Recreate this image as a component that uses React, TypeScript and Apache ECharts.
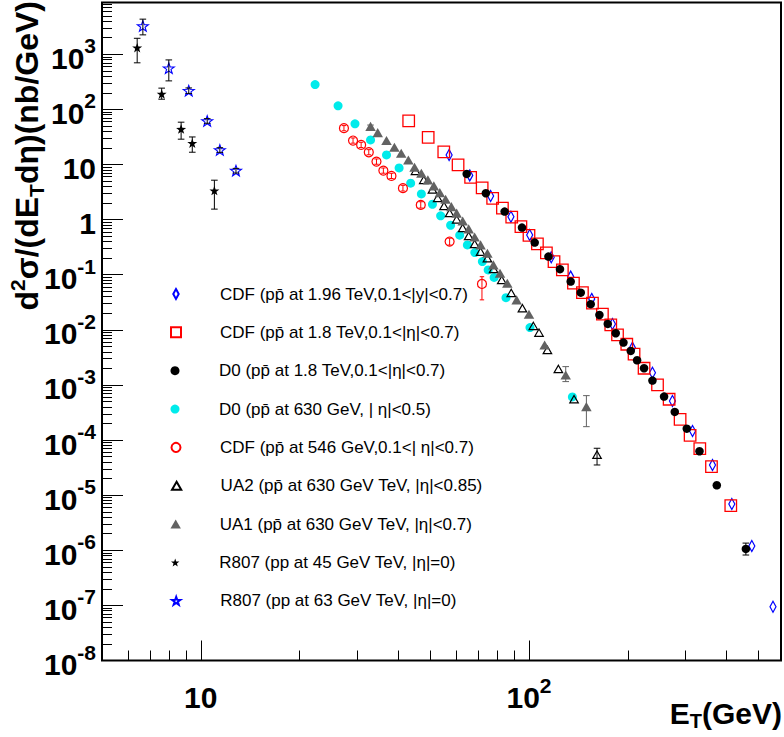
import React, { useEffect, useRef } from 'react';
import * as echarts from 'echarts';

const FONT = '"Liberation Sans", Arial, Helvetica, sans-serif';

// ---- axis ranges and tick positions ----
const X_MIN = 5;
const X_MAX = 586;
const Y_MIN = 1e-8;
const Y_MAX = 8700;
const X_MAJOR = [10, 100];
const X_MINOR = [6, 7, 8, 9, 20, 30, 40, 50, 60, 70, 80, 90, 200, 300, 400, 500];
const Y_EXPONENTS = [-8, -7, -6, -5, -4, -3, -2, -1, 0, 1, 2, 3];
const Y_MANTISSAS = [2, 3, 4, 5, 6, 7, 8, 9];

// ---- legend labels ----
const NAMES = [
  'CDF (pp̄ at 1.96 TeV,0.1<|y|<0.7)',
  'CDF (pp̄ at 1.8 TeV,0.1<|η|<0.7)',
  'D0 (pp̄ at 1.8 TeV,0.1<|η|<0.7)',
  'D0 (pp̄ at 630 GeV, | η|<0.5)',
  'CDF (pp̄ at 546 GeV,0.1<| η|<0.7)',
  'UA2 (pp̄ at 630 GeV TeV, |η|<0.85)',
  'UA1 (pp̄ at 630 GeV TeV, |η|<0.7)',
  'R807 (pp at 45 GeV TeV, |η|=0)',
  'R807 (pp at 63 GeV TeV, |η|=0)',
];

// ---- data ----
const cdf196X = [57.1, 66.0, 76.4, 88.1, 100.5, 116.9, 134, 155.3, 179.6, 206.6, 237.8, 273.6, 315, 362.4, 415, 477.5, 554];
const cdf196Y = [14.9, 6.34, 2.69, 1.13, 0.527, 0.208, 0.0925, 0.0364, 0.0128, 0.00475, 0.00167, 5.13e-4, 1.46e-4, 3.53e-5, 6.92e-6, 1.2e-6, 9.46e-8];

const cdf18X = [43.0, 49.3, 55.0, 60.8, 66.4, 72.0, 77.5, 83.0, 88.6, 94.5, 100, 106.1, 113, 119.2, 126.4, 136.6, 145.5, 156.1, 167.4, 177.5, 186.1, 198.6, 209, 224.2, 246.4, 267.3, 288.7, 309.7, 331.5, 359.8, 412];
const cdf18Y = [61.8, 31.0, 16.9, 9.84, 5.83, 3.76, 2.43, 1.61, 1.11, 0.746, 0.516, 0.362, 0.249, 0.173, 0.122, 0.0702, 0.0473, 0.0304, 0.0192, 0.01227, 0.00807, 0.00548, 0.00361, 0.00201, 0.001, 5.5e-4, 2.38e-4, 1.22e-4, 6.98e-5, 3.29e-5, 6.44e-6];

const d018X = [64.6, 73.9, 84.3, 95.2, 104.1, 114.6, 124.3, 134, 143.8, 154.2, 163.9, 173.8, 183.8, 194, 204.2, 213.5, 224.2, 237.8, 258, 278.1, 302.6, 330.8, 373.5, 458];
const d018Y = [6.75, 3.01, 1.40, 0.716, 0.383, 0.213, 0.126, 0.075, 0.0473, 0.0292, 0.0186, 0.0128, 0.00867, 0.00586, 0.00414, 0.0028, 0.00201, 0.0012, 6.14e-4, 3.24e-4, 1.61e-4, 6.27e-5, 1.51e-5, 1.06e-6];
const d018ErrX = [458];
const d018ErrLo = [8.2e-7];
const d018ErrHi = [1.35e-6];

const d0630X = [22.3, 26.2, 29.5, 32.9, 36.8, 40.2, 43.6, 47.0, 50.8, 53.8, 57.7, 61.5, 64.9, 68.4, 72.1, 75.1, 78.3, 85.1, 100.7, 135.6];
const d0630Y = [282, 116, 54.6, 27.9, 14.9, 8.67, 4.58, 2.93, 1.90, 1.17, 0.79, 0.521, 0.348, 0.252, 0.173, 0.122, 0.0893, 0.0384, 0.011, 6.05e-4];

const cdf546X = [27.3, 29.1, 30.8, 32.5, 34.3, 36.0, 38.1, 41.3, 46.8, 57.3, 71.9];
const cdf546Y = [45.6, 27.2, 22.7, 16.7, 11.3, 7.75, 6.21, 3.72, 1.85, 0.40, 0.068];
const cdf546Lo = [40.9, 24.4, 20.3, 15.0, 10.1, 6.95, 5.57, 3.30, 1.62, 0.345, 0.035];
const cdf546Hi = [50.8, 30.3, 25.3, 18.6, 12.6, 8.64, 6.92, 4.19, 2.11, 0.46, 0.092];

const ua2X = [45.1, 47.8, 50.8, 52.7, 55.1, 57.3, 60.2, 62.8, 65.5, 68.3, 71.2, 74.7, 78.0, 82.6, 88.3, 95.5, 103.1, 107.3, 113.8, 122.9, 137.2, 161.2];
const ua2Y = [7.66, 5.26, 3.53, 2.48, 1.77, 1.32, 1.01, 0.706, 0.506, 0.362, 0.262, 0.199, 0.127, 0.0805, 0.0468, 0.0247, 0.0118, 0.0089, 0.00431, 0.00195, 5.5e-4, 5.43e-5];
const ua2ErrX = [161.2];
const ua2ErrLo = [3.53e-5];
const ua2ErrHi = [7.1e-5];

const ua1X = [32.9, 34.6, 36.8, 38.9, 40.8, 42.9, 44.8, 47.0, 49.2, 51.3, 53.5, 55.7, 58.0, 60.2, 62.8, 65.5, 68.3, 71.2, 74.7, 77.9, 81.6, 85.9, 91.7, 100, 111.6, 129.4, 149.6];
const ua1Y = [49.1, 37.9, 27.2, 20.6, 16.0, 12.1, 8.93, 6.95, 5.26, 4.09, 3.09, 2.34, 1.72, 1.31, 0.946, 0.678, 0.485, 0.348, 0.245, 0.151, 0.106, 0.070, 0.0349, 0.0192, 0.00532, 0.00152, 4.04e-4];
const ua1ErrX = [32.9, 129.4, 149.6];
const ua1ErrLo = [42.0, 0.00115, 1.75e-4];
const ua1ErrHi = [52.0, 0.00215, 6.4e-4];

const r45X = [6.4, 7.6, 8.71, 9.42, 11.0];
const r45Y = [1320, 191, 44, 24.4, 3.36];
const r45Lo = [700, 153, 28.8, 16.7, 1.55];
const r45Hi = [1950, 243, 58.6, 31.6, 5.19];

const r63X = [6.66, 7.99, 9.19, 10.46, 11.43, 12.8];
const r63Y = [3270, 560, 219, 61.8, 18.4, 7.75];
const r63Lo = [2250, 329, 195, 56, 16.6, 7.0];
const r63Hi = [4340, 790, 245, 68, 20.2, 8.5];

// ---- helpers ----
const L = (v: number) => Math.log10(v);

const starPath = () => {
  const pts: string[] = [];
  for (let i = 0; i < 10; i++) {
    const r = i % 2 === 0 ? 10 : 4;
    const a = -Math.PI / 2 + (i * Math.PI) / 5;
    pts.push(`${(r * Math.cos(a)).toFixed(2)},${(r * Math.sin(a)).toFixed(2)}`);
  }
  return 'path://M' + pts.join('L') + 'Z';
};
const STAR = starPath();
const DIAMOND = 'path://M3,0L6,5.5L3,11L0,5.5Z';
const TRIANGLE = 'path://M5.77,0L11.55,10L0,10Z';
const SQUARE = 'path://M0,0L10,0L10,10L0,10Z';
const NONE = 'rgba(0,0,0,0)';

const fmtExp = (v: number) => {
  const e = Math.round(v);
  if (Math.abs(v - e) > 1e-6) return '';
  if (e === 0) return '{m|1}';
  if (e === 1) return '{m|10}';
  return `{m|10}{s|${e}}`;
};

const AX_RICH = {
  m: { fontSize: 30, fontWeight: 'bold', fontFamily: FONT, color: '#000', lineHeight: 38, verticalAlign: 'bottom' },
  s: { fontSize: 21, fontWeight: 'bold', fontFamily: FONT, color: '#000', lineHeight: 21, verticalAlign: 'top' },
};

// legendW: rendered icon width in the legend (for centring the icon at x=175)
type Mk = { symbol: string; size: number; fill: string; stroke: string; bw: number; legendSize: number; legendW: number };
const MARKERS: Mk[] = [
  { symbol: DIAMOND, size: 11, fill: NONE, stroke: '#0000ff', bw: 1.2, legendSize: 10, legendW: 5.5 },
  { symbol: SQUARE, size: 11.5, fill: NONE, stroke: '#ff0000', bw: 1.3, legendSize: 10, legendW: 10 },
  { symbol: 'circle', size: 8.5, fill: '#000000', stroke: '#000000', bw: 0, legendSize: 9, legendW: 9 },
  { symbol: 'circle', size: 9, fill: '#00ebeb', stroke: '#00ebeb', bw: 0, legendSize: 9, legendW: 9 },
  { symbol: 'circle', size: 9, fill: NONE, stroke: '#ff0000', bw: 1.2, legendSize: 9, legendW: 9 },
  { symbol: TRIANGLE, size: 8.5, fill: NONE, stroke: '#000000', bw: 1.2, legendSize: 8, legendW: 8 },
  { symbol: TRIANGLE, size: 10.5, fill: '#626262', stroke: '#626262', bw: 0, legendSize: 9, legendW: 9 },
  { symbol: STAR, size: 10, fill: '#000000', stroke: '#000000', bw: 0, legendSize: 8, legendW: 8 },
  { symbol: STAR, size: 11, fill: NONE, stroke: '#0000ff', bw: 1.1, legendSize: 8, legendW: 8 },
];

const DATASETS: [number[], number[]][] = [
  [cdf196X, cdf196Y],
  [cdf18X, cdf18Y],
  [d018X, d018Y],
  [d0630X, d0630Y],
  [cdf546X, cdf546Y],
  [ua2X, ua2Y],
  [ua1X, ua1Y],
  [r45X, r45Y],
  [r63X, r63Y],
];

const errSeries = (xs: number[], lo: number[], hi: number[], color: string, hw: number) => ({
  type: 'custom',
  xAxisIndex: 0,
  yAxisIndex: 0,
  silent: true,
  z: 3,
  data: xs.map((x, i) => [L(x), L(lo[i]), L(hi[i])]),
  encode: { x: 0, y: [1, 2] },
  renderItem: (_p: any, api: any) => {
    const a = api.coord([api.value(0), api.value(1)]);
    const b = api.coord([api.value(0), api.value(2)]);
    const st = { stroke: color, lineWidth: 1 };
    return {
      type: 'group',
      children: [
        { type: 'line', shape: { x1: a[0], y1: a[1], x2: b[0], y2: b[1] }, style: st },
        { type: 'line', shape: { x1: a[0] - hw, y1: a[1], x2: a[0] + hw, y2: a[1] }, style: st },
        { type: 'line', shape: { x1: b[0] - hw, y1: b[1], x2: b[0] + hw, y2: b[1] }, style: st },
      ],
    };
  },
});

const ROW0 = 294;
const ROW_GAP = 38.35;
const LEGEND_FONT = 17;

export default function App() {
  const ref = useRef<HTMLDivElement>(null);
  useEffect(() => {
    if (!ref.current) return;
    const chart = echarts.init(ref.current, null, { renderer: 'svg' });

    const yMinor: number[] = [];
    Y_EXPONENTS.forEach((e) =>
      Y_MANTISSAS.forEach((m) => {
        const v = m * Math.pow(10, e);
        if (v < Y_MAX) yMinor.push(L(v));
      })
    );

    const scatter = DATASETS.map(([xs, ys], i) => {
      const mk = MARKERS[i];
      return {
        type: 'scatter',
        name: NAMES[i],
        xAxisIndex: 0,
        yAxisIndex: 0,
        data: xs.map((x, j) => [L(x), L(ys[j])]),
        symbol: mk.symbol,
        symbolSize: mk.size,
        symbolKeepAspect: true,
        silent: true,
        z: 2,
        itemStyle: { color: mk.fill, borderColor: mk.stroke, borderWidth: mk.bw, opacity: 1 },
        emphasis: { disabled: true },
      };
    });

    const option: any = {
      animation: false,
      backgroundColor: '#ffffff',
      grid: {
        left: 102,
        right: 3,
        top: 2.5,
        bottom: 76.5,
        show: true,
        borderColor: '#000',
        borderWidth: 2,
        backgroundColor: 'transparent',
      },
      xAxis: [
        {
          type: 'value',
          min: L(X_MIN),
          max: L(X_MAX),
          position: 'bottom',
          axisLine: { show: false, onZero: false },
          splitLine: { show: false },
          axisTick: { show: true, inside: true, length: 20, customValues: X_MAJOR.map(L), lineStyle: { color: '#000', width: 1 } },
          axisLabel: { show: true, customValues: X_MAJOR.map(L), formatter: fmtExp, margin: 14, rich: AX_RICH },
        },
        {
          type: 'value',
          min: L(X_MIN),
          max: L(X_MAX),
          position: 'bottom',
          axisLine: { show: false, onZero: false },
          splitLine: { show: false },
          axisTick: { show: true, inside: true, length: 10, customValues: X_MINOR.map(L), lineStyle: { color: '#000', width: 1 } },
          axisLabel: { show: false },
        },
      ],
      yAxis: [
        {
          type: 'value',
          min: L(Y_MIN),
          max: L(Y_MAX),
          position: 'left',
          axisLine: { show: false, onZero: false },
          splitLine: { show: false },
          axisTick: { show: true, inside: true, length: 21, customValues: Y_EXPONENTS, lineStyle: { color: '#000', width: 1 } },
          axisLabel: { show: true, customValues: Y_EXPONENTS, formatter: fmtExp, margin: 6, rich: AX_RICH },
        },
        {
          type: 'value',
          min: L(Y_MIN),
          max: L(Y_MAX),
          position: 'left',
          axisLine: { show: false, onZero: false },
          splitLine: { show: false },
          axisTick: { show: true, inside: true, length: 10, customValues: yMinor, lineStyle: { color: '#000', width: 1 } },
          axisLabel: { show: false },
        },
      ],
      legend: NAMES.map((n, i) => ({
        data: [n],
        left: 175 - MARKERS[i].legendW / 2,
        top: ROW0 + i * ROW_GAP - LEGEND_FONT / 2,
        orient: 'horizontal',
        padding: 0,
        itemWidth: 78,
        itemHeight: MARKERS[i].legendSize,
        selectedMode: false,
        textStyle: { fontSize: LEGEND_FONT, fontFamily: FONT, color: '#000' },
      })),
      graphic: [
        {
          type: 'text',
          x: 27,
          y: 1,
          rotation: Math.PI / 2,
          style: {
            text: '{a|d}{p|2}{a|σ/(dE}{b|T}{a|dη)(nb/GeV)}',
            align: 'right',
            verticalAlign: 'middle',
            rich: {
              a: { fontSize: 32, fontWeight: 'bold', fontFamily: FONT, fill: '#000', lineHeight: 40, verticalAlign: 'middle' },
              p: { fontSize: 21, fontWeight: 'bold', fontFamily: FONT, fill: '#000', lineHeight: 21, verticalAlign: 'top' },
              b: { fontSize: 21, fontWeight: 'bold', fontFamily: FONT, fill: '#000', lineHeight: 21, verticalAlign: 'bottom' },
            },
          },
        },
        {
          type: 'text',
          x: 782,
          y: 713,
          style: {
            text: '{a|E}{b|T}{a|(GeV)}',
            align: 'right',
            verticalAlign: 'middle',
            rich: {
              a: { fontSize: 30, fontWeight: 'bold', fontFamily: FONT, fill: '#000', lineHeight: 36, verticalAlign: 'middle' },
              b: { fontSize: 20, fontWeight: 'bold', fontFamily: FONT, fill: '#000', lineHeight: 20, verticalAlign: 'bottom' },
            },
          },
        },
      ],
      series: [
        ...scatter,
        errSeries(r45X, r45Lo, r45Hi, '#000', 3.3),
        errSeries(r63X, r63Lo, r63Hi, '#000', 3.3),
        errSeries(cdf546X, cdf546Lo, cdf546Hi, '#ff0000', 2.2),
        errSeries(ua1ErrX, ua1ErrLo, ua1ErrHi, '#626262', 3.3),
        errSeries(ua2ErrX, ua2ErrLo, ua2ErrHi, '#000', 3.3),
        errSeries(d018ErrX, d018ErrLo, d018ErrHi, '#000', 3.3),
      ],
    };
    chart.setOption(option);
    return () => chart.dispose();
  }, []);
  return (
    <div
      ref={ref}
      style={{ position: 'fixed', left: 0, top: 0, width: 784, height: 737, background: '#fff' }}
    />
  );
}
